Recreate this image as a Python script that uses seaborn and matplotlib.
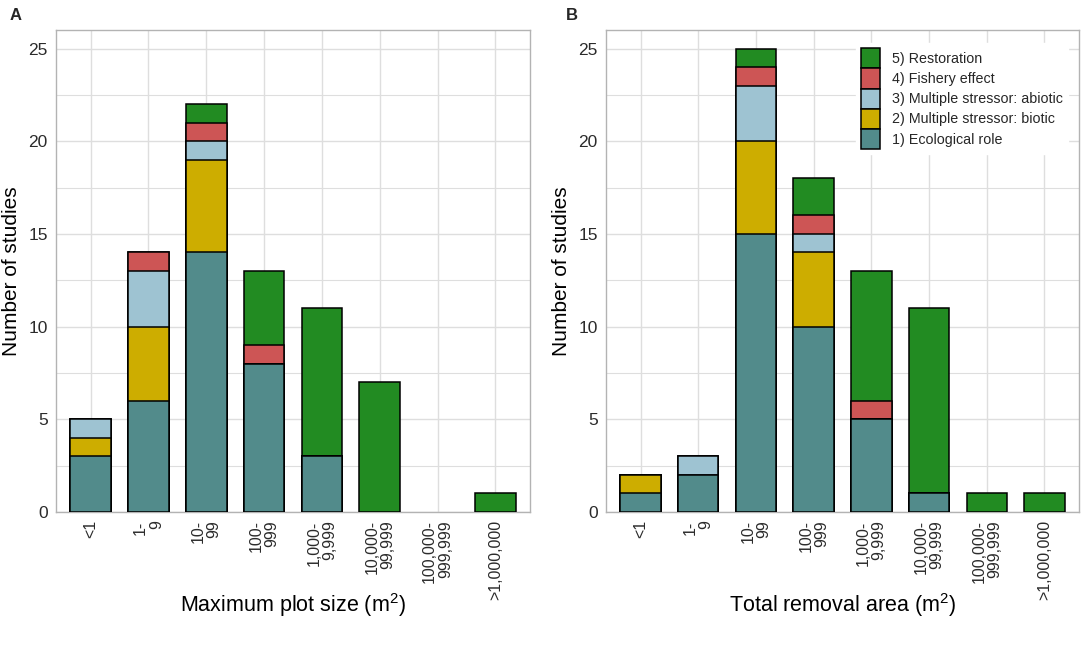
import matplotlib
matplotlib.use("Agg")

import matplotlib.pyplot as plt
from matplotlib.patches import Patch
from matplotlib.ticker import MultipleLocator
import seaborn as sns
import pandas as pd
import numpy as np

sns.set_style("whitegrid")
plt.rcParams["font.family"] = ["Liberation Sans", "DejaVu Sans"]
plt.rcParams["mathtext.default"] = "regular"

# categories on the x axis (same for both panels)
size_labels = ["<1", "1-\n9", "10-\n99", "100-\n999", "1,000-\n9,999",
               "10,000-\n99,999", "100,000-\n999,999", ">1,000,000"]

study_types = ["1) Ecological role", "2) Multiple stressor: biotic",
               "3) Multiple stressor: abiotic", "4) Fishery effect",
               "5) Restoration"]
type_colors = ["#528B8B", "#CDAD00", "#9EC3D2", "#CD5555", "#228B22"]

# panel A - maximum plot size
plot_ecological = [3, 6, 14, 8, 3, 0, 0, 0]
plot_biotic = [1, 4, 5, 0, 0, 0, 0, 0]
plot_abiotic = [1, 3, 1, 0, 0, 0, 0, 0]
plot_fishery = [0, 1, 1, 1, 0, 0, 0, 0]
plot_restoration = [0, 0, 1, 4, 8, 7, 0, 1]

# panel B - total removal area
area_ecological = [1, 2, 15, 10, 5, 1, 0, 0]
area_biotic = [1, 0, 5, 4, 0, 0, 0, 0]
area_abiotic = [0, 1, 3, 1, 0, 0, 0, 0]
area_fishery = [0, 0, 1, 1, 1, 0, 0, 0]
area_restoration = [0, 0, 1, 2, 7, 10, 1, 1]

GRID = "#DEDEDE"
FRAME = "#B3B3B3"


def draw_panel(ax, layers, xlabel):
    df = pd.DataFrame(dict(zip(study_types, layers)), index=size_labels)
    cum = df.cumsum(axis=1).replace(0, np.nan)

    # stacked bars: draw the tallest cumulative first, then cover downwards
    for name, col in zip(study_types[::-1], type_colors[::-1]):
        sns.barplot(x=size_labels, y=cum[name].values, order=size_labels,
                    color=col, saturation=1, width=0.7, edgecolor="black",
                    linewidth=1.1, errorbar=None, ax=ax, zorder=3)

    ax.set_xlim(-0.6, len(size_labels) - 0.4)
    ax.set_ylim(0, 26)
    ax.yaxis.set_major_locator(MultipleLocator(5))
    ax.yaxis.set_minor_locator(MultipleLocator(2.5))
    ax.grid(True, which="major", color=GRID, linewidth=1.0, zorder=0)
    ax.grid(True, which="minor", axis="y", color=GRID, linewidth=0.8, zorder=0)
    ax.set_axisbelow(True)

    for sp in ax.spines.values():
        sp.set_visible(True)
        sp.set_color(FRAME)
        sp.set_linewidth(1.0)

    ax.tick_params(axis="both", which="major", length=4, width=1.0,
                   color=FRAME, labelcolor="#2B2B2B", pad=2)
    ax.tick_params(axis="y", which="major", labelsize=12.5)
    ax.tick_params(axis="x", which="major", labelsize=11.5)
    ax.tick_params(axis="y", which="minor", length=0)
    for lab in ax.get_xticklabels():
        lab.set_rotation(90)
        lab.set_ha("center")
        lab.set_va("top")
        lab.set_multialignment("right")
        lab.set_linespacing(1.05)

    ax.set_ylabel("Number of studies", fontsize=15, color="black")
    ax.yaxis.label.set_va("center")
    ax.yaxis.set_label_coords(-0.094, 0.5)
    ax.set_xlabel(xlabel, fontsize=15.5, color="black")
    ax.xaxis.label.set_va("center")
    ax.xaxis.set_label_coords(0.5, -0.193)


fig = plt.figure(figsize=(10.84, 6.48), dpi=100)
ax_a = fig.add_axes([56 / 1084, 136 / 648, 474 / 1084, 482 / 648])
ax_b = fig.add_axes([606 / 1084, 136 / 648, 473 / 1084, 482 / 648])

draw_panel(ax_a, [plot_ecological, plot_biotic, plot_abiotic,
                  plot_fishery, plot_restoration],
           r"Maximum plot size (m$^{2}$)")
draw_panel(ax_b, [area_ecological, area_biotic, area_abiotic,
                  area_fishery, area_restoration],
           r"Total removal area (m$^{2}$)")

handles = [Patch(facecolor=c, edgecolor="black", linewidth=1.1, label=t)
           for t, c in zip(study_types[::-1], type_colors[::-1])]
leg = ax_b.legend(handles=handles, loc="upper left",
                  bbox_to_anchor=(0.5285, 0.973), borderaxespad=0,
                  fontsize=10.3, handlelength=1.35, handleheight=1.8,
                  labelspacing=0.0, handletextpad=0.85, borderpad=0.35,
                  frameon=True, fancybox=False, framealpha=1)
leg.get_frame().set_facecolor("white")
leg.get_frame().set_edgecolor("white")
leg.set_zorder(5)

fig.text(10 / 1084, 1 - 8 / 648, "A", fontsize=12, fontweight="bold",
         ha="left", va="top")
fig.text(566 / 1084, 1 - 8 / 648, "B", fontsize=12, fontweight="bold",
         ha="left", va="top")

fig.savefig("out.png", dpi=100)
plt.close(fig)
